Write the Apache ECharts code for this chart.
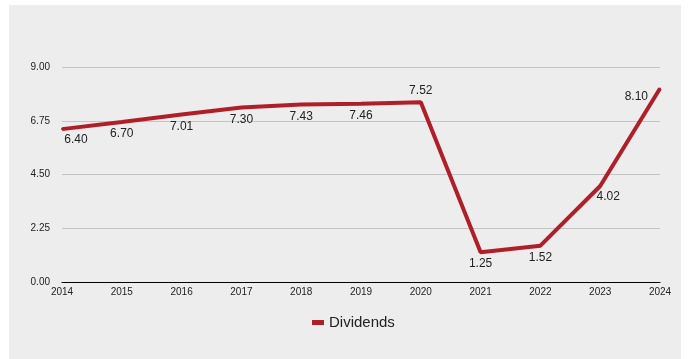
<!DOCTYPE html>
<html>
<head>
<meta charset="utf-8">
<script src="https://cdn.jsdelivr.net/npm/echarts@6/dist/echarts.min.js"></script>
<style>
html,body{margin:0;padding:0;background:#ffffff;}
#wrap{position:absolute;left:9px;top:5px;width:672px;height:354px;background:#ededed;}
#chart{width:672px;height:354px;}
</style>
</head>
<body>
<div id="wrap"><div id="chart"></div></div>
<script>
const categories = ['2014','2015','2016','2017','2018','2019','2020','2021','2022','2023','2024'];
const dividends = [6.40, 6.70, 7.01, 7.30, 7.43, 7.46, 7.52, 1.25, 1.52, 4.02, 8.10];
const yTicks = [0, 2.25, 4.50, 6.75, 9.00];

const labelCfg = {
  0: {position: 'bottom', offset: [14, -1]},
  6: {position: 'top'},
  9: {position: 'bottom', offset: [8, -1]},
  10: {position: 'left', offset: [-6, 8]}
};
const seriesData = dividends.map((v, i) => {
  const o = {value: v};
  if (labelCfg[i]) o.label = labelCfg[i];
  return o;
});

const chart = echarts.init(document.getElementById('chart'));
chart.setOption({
  backgroundColor: 'transparent',
  animation: false,
  textStyle: {fontFamily: 'Liberation Sans, Arial, sans-serif'},
  grid: {left: 53, top: 62, width: 598, height: 215, containLabel: false},
  legend: {
    bottom: 24,
    left: 298,
    icon: 'rect',
    itemWidth: 12,
    itemHeight: 5,
    itemGap: 10,
    textStyle: {fontSize: 15, color: '#222', fontFamily: 'Liberation Sans, Arial, sans-serif'},
    data: ['Dividends']
  },
  xAxis: {
    type: 'category',
    data: categories,
    boundaryGap: false,
    axisLine: {lineStyle: {color: '#000', width: 1}},
    axisTick: {show: false},
    axisLabel: {fontSize: 10, color: '#222', margin: 5, interval: 0}
  },
  yAxis: {
    type: 'value',
    min: 0,
    max: 9,
    interval: 2.25,
    axisLine: {show: false},
    axisTick: {show: false},
    splitLine: {lineStyle: {color: '#c4c4c4', width: 1}},
    axisLabel: {fontSize: 10, color: '#222', margin: 12, formatter: v => v.toFixed(2)}
  },
  series: [{
    name: 'Dividends',
    type: 'line',
    data: seriesData,
    symbol: 'circle',
    symbolSize: 2,
    showSymbol: true,
    itemStyle: {color: '#b01f28'},
    color: '#b01f28',
    lineStyle: {width: 4, color: '#b01f28'},
    label: {
      show: true,
      position: 'bottom',
      distance: 5,
      fontSize: 12,
      color: '#222',
      formatter: p => p.value.toFixed(2)
    }
  }]
});
</script>
</body>
</html>
